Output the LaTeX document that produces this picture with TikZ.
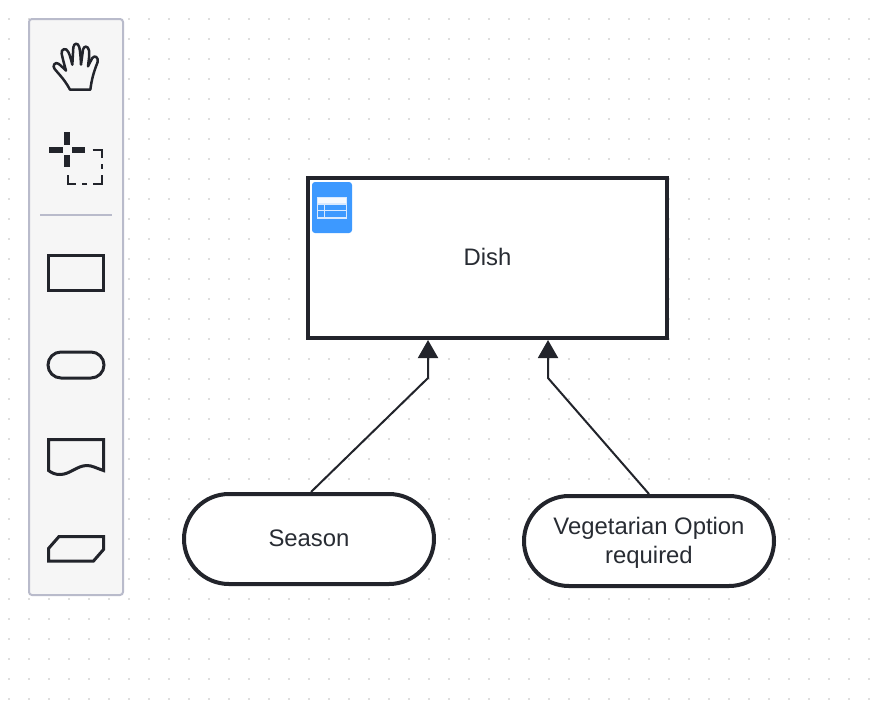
\documentclass[tikz,border=0pt]{standalone}
\usepackage{fontspec}
\setmainfont{Liberation Sans}
\usetikzlibrary{arrows.meta}
\newdimen\pxu \pxu=0.75pt
\definecolor{ink}{HTML}{22242B}
\definecolor{txt}{HTML}{282C33}
\definecolor{griddot}{HTML}{DEDEDE}
\definecolor{panelfill}{HTML}{F6F6F6}
\definecolor{panelline}{HTML}{B9BBCB}
\definecolor{badge}{HTML}{3D99FF}
\definecolor{badgeline}{HTML}{D8E9FF}
\tikzset{
  gridspot/.style={griddot,fill,draw=none},
  panel/.style={draw=panelline,line width=2\pxu,fill=panelfill,rounded corners=3\pxu},
  iconline/.style={draw=ink,line width=3\pxu,line join=miter},
  cross/.style={fill=ink,draw=none},
  dashpart/.style={draw=ink,line width=2\pxu},
  entitybox/.style={draw=ink,line width=4\pxu,fill=white,rectangle,minimum width=359\pxu,minimum height=160\pxu,inner sep=0pt,text=txt,font=\fontsize{17.9pt}{21.75pt}\selectfont,align=center},
  pill/.style={draw=ink,line width=4\pxu,fill=white,rectangle,rounded corners=45\pxu,minimum width=250\pxu,minimum height=90\pxu,inner sep=0pt,text=txt,font=\fontsize{17.9pt}{21.75pt}\selectfont,align=center},
  conn/.style={draw=ink,line width=2\pxu,-{Triangle[length=13.5pt,width=15pt]}},
}
\begin{document}
\begin{tikzpicture}[x=0.75pt,y=-0.75pt]
\useasboundingbox (0,0) rectangle (884,718);
\fill[white] (0,0) rectangle (884,718);
% dotted grid
\foreach \i in {0,...,43}{
  \foreach \j in {0,...,34}{
    \path[gridspot] ({8+20*\i},{18+20*\j}) rectangle ++(2,2);
  }
}
% toolbar
\path[panel] (29,19) rectangle (123,595);
\draw[panelline,line width=2\pxu] (40,215) -- (112,215);
% hand icon
\begin{scope}[shift={(46,38)},x=0.25pt,y=-0.25pt]
\draw[draw=ink,line width=2.5\pxu,line join=round,line cap=round]
  (72,155) -- (133,155)
  .. controls (137,125) and (142,105) .. (155,72)
  .. controls (158,58) and (146,50) .. (139,60)
  .. controls (134,68) and (130,78) .. (126,85)
  .. controls (128,68) and (131,50) .. (129,37)
  .. controls (126,23) and (114,22) .. (111,35)
  .. controls (109,50) and (107,65) .. (105,80)
  .. controls (104,60) and (103,42) .. (100,28)
  .. controls (96,13) and (84,14) .. (82,28)
  .. controls (81,45) and (80,62) .. (79,80)
  .. controls (75,65) and (72,52) .. (67,42)
  .. controls (61,27) and (44,33) .. (47,47)
  .. controls (50,62) and (55,80) .. (60,98)
  .. controls (52,90) and (44,82) .. (37,77)
  .. controls (27,70) and (18,84) .. (26,93)
  .. controls (40,110) and (56,125) .. (72,155) -- cycle;
\end{scope}
% crosshair icon
\fill[cross] (64.3,131.7) rectangle (70.3,145);
\fill[cross] (64.3,155) rectangle (70.3,167);
\fill[cross] (49.3,146.7) rectangle (62.7,152.7);
\fill[cross] (72.3,146.7) rectangle (85.3,152.7);
\draw[dashpart] (92.7,150.3) -- (101.7,150.3) -- (101.7,158);
\draw[dashpart] (101.7,164) -- (101.7,169);
\draw[dashpart] (101.7,175) -- (101.7,184) -- (92.7,184);
\draw[dashpart] (87,184) -- (82,184);
\draw[dashpart] (75.7,184) -- (67.7,184) -- (67.7,175);
% shape icons
\draw[iconline] (48.5,255.5) rectangle (103.5,290);
\draw[iconline] (48,352) [rounded corners=13\pxu] -- (104,352) -- (104,378) -- (48,378) -- cycle;
\draw[iconline] (48.5,470.5) -- (48.5,439.5) -- (103.5,439.5) -- (103.5,470.5)
  .. controls (96,468) and (92,465.5) .. (87,465.5)
  .. controls (77,465.5) and (70,474.5) .. (60,474.5)
  .. controls (55,474.5) and (52,473) .. (48.5,470.5) -- cycle;
\draw[iconline] (59,536.5) -- (103.5,536.5) -- (103.5,549.5) -- (93.5,561) -- (48.5,561) -- (48.5,548.5) -- cycle;
% entities
\node[entitybox,text depth=3\pxu] (dish) at (487.5,258) {Dish};
\node[pill,text depth=2\pxu] (season) at (309,539) {Season};
\node[pill,text depth=2\pxu] (veg) at (649,541) {Vegetarian Option\\required};
% badge
\fill[badge,rounded corners=3\pxu] (312,182) rectangle (352,233);
\fill[white,fill opacity=0.95] (317.5,197.5) rectangle (346.5,204);
\draw[badgeline,line width=1.2\pxu] (317.8,197.8) rectangle (346.2,218);
\draw[badgeline,line width=1.2\pxu] (317.8,204) -- (346.2,204);
\draw[badgeline,line width=1.2\pxu] (317.8,210.8) -- (346.2,210.8);
\draw[badgeline,line width=1.2\pxu] (324.7,204) -- (324.7,218);
% connectors
\coordinate (bendA) at (428,378);
\coordinate (bendB) at (548,378);
\draw[conn] ([xshift=1.5pt]season.north) -- (bendA) -- (bendA |- dish.south);
\draw[conn] (veg.north) -- (bendB) -- (bendB |- dish.south);
\end{tikzpicture}
\end{document}
